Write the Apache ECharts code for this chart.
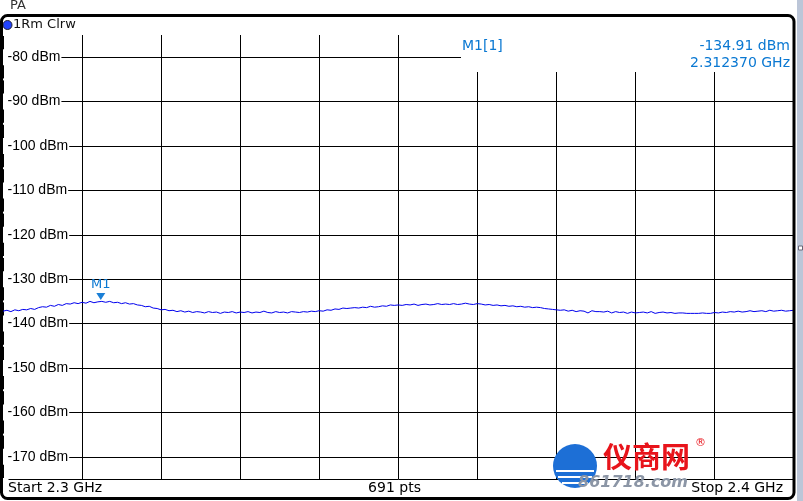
<!DOCTYPE html>
<html>
<head>
<meta charset="utf-8">
<script src="https://cdn.jsdelivr.net/npm/echarts@6/dist/echarts.min.js"></script>
<style>
html,body{margin:0;padding:0;background:#fff;}
#chart{width:803px;height:501px;}
</style>
</head>
<body>
<div id="chart"></div>
<script>
// ---- data ----
const freqStartGHz = 2.3;
const freqStopGHz = 2.4;
const freqStepGHz = 0.0005;
const sweepPointsText = '691 pts';
const traceDbm = [
  -137.2, -137.0, -137.3, -136.9, -137.1, -136.8, -136.9, -136.6, -136.8, -136.4, -136.2,
  -136.3, -135.9, -136.1, -135.7, -135.9, -135.5, -135.6,
  -135.3, -135.5, -135.2, -135.4, -135.0, -135.3, -135.1,
  -135.0, -135.2, -135.0, -135.3, -135.2, -135.5, -135.3, -135.6,
  -135.5, -135.8, -135.9, -136.2, -136.1, -136.5, -136.6, -136.9,
  -136.8, -137.1, -137.0, -137.3, -137.1, -137.4, -137.2, -137.5, -137.3, -137.4,
  -137.6, -137.3, -137.5, -137.4, -137.7, -137.4, -137.5, -137.3, -137.6, -137.4, -137.5, -137.3,
  -137.6, -137.4, -137.5, -137.2, -137.5, -137.6, -137.3, -137.5, -137.4, -137.6, -137.3, -137.4, -137.5,
  -137.3, -137.4, -137.2, -137.3, -137.1, -137.2, -136.9, -137.0,
  -136.7, -136.8, -136.5, -136.6, -136.5,
  -136.4, -136.5, -136.3, -136.4, -136.1, -136.3, -136.2,
  -136.0, -136.1, -135.8, -135.9, -135.8,
  -135.9, -135.7, -135.8, -135.6, -135.9, -135.7, -135.6, -135.8, -135.7, -135.5, -135.7, -135.6, -135.7,
  -135.5, -135.7, -135.6, -135.4, -135.6, -135.7, -135.5, -135.6,
  -135.8, -135.7, -135.9, -135.8, -136.0,
  -135.9, -136.1, -136.0, -136.2, -136.1, -136.3, -136.2, -136.4, -136.3, -136.4,
  -136.6, -136.7, -136.8, -136.9,
  -137.0, -136.9, -137.2, -137.0, -137.3, -137.1, -137.2, -137.6, -137.1, -137.3, -137.3,
  -137.4, -137.2, -137.6, -137.3, -137.5, -137.4, -137.7, -137.4, -137.6, -137.5,
  -137.4, -137.6, -137.3, -137.7, -137.5, -137.4, -137.6, -137.5, -137.7, -137.6,
  -137.6, -137.7, -137.7, -137.7, -137.7, -137.6, -137.7, -137.7, -137.5, -137.6,
  -137.4, -137.5, -137.3, -137.4, -137.2, -137.4, -137.3, -137.1, -137.3, -137.2,
  -137.1, -137.3, -137.0, -137.2, -137.1, -137.0, -137.2, -137.1, -137.0
];
const markerFreqGHz = 2.31237;
const markerDbm = -134.91;
const yMinDbm = -175;
const yMaxDbm = -75;
const yTickStep = 5;

// ---- chart ----
const chart = echarts.init(document.getElementById('chart'), null, {renderer: 'canvas'});
const seriesData = traceDbm.map((v, i) => [freqStartGHz + i * freqStepGHz, v]);
const blueText = '#0a78d2';
const uiFont = 'DejaVu Sans';

chart.setOption({
  animation: false,
  backgroundColor: '#ffffff',
  grid: {left: 2.5, right: 9.5, top: 35, bottom: 22, containLabel: false},
  xAxis: {
    type: 'value', min: freqStartGHz, max: freqStopGHz, interval: 0.01,
    axisLabel: {show: false}, axisTick: {show: false},
    axisLine: {show: true, lineStyle: {color: '#000', width: 1}},
    splitLine: {show: true, lineStyle: {color: '#000', width: 1}}
  },
  yAxis: {
    type: 'value', min: yMinDbm, max: yMaxDbm, interval: yTickStep,
    axisLine: {show: false}, axisTick: {show: false},
    splitLine: {show: true, lineStyle: {color: ['rgba(0,0,0,0)', '#000'], width: 1}},
    axisLabel: {
      inside: true, margin: 0,
      formatter: v => (Math.round(v) % 10 === 0 && v > yMinDbm && v < yMaxDbm) ? (Math.round(v) + ' dBm') : '',
      color: '#000', fontFamily: 'Liberation Sans', fontSize: 14,
      backgroundColor: '#fff', padding: [1, 1, 1, 4.5]
    }
  },
  series: [{
    type: 'line', data: seriesData, showSymbol: false, symbol: 'none',
    lineStyle: {color: '#0000ee', width: 1}, z: 3,
    markPoint: {
      symbol: 'triangle', symbolSize: [9, 7], symbolRotate: 180, symbolOffset: [0, -4.5],
      itemStyle: {color: '#1a7fd6'},
      label: {show: true, position: 'top', distance: 2, formatter: 'M1', color: blueText, fontFamily: uiFont, fontSize: 13},
      data: [{coord: [markerFreqGHz, markerDbm]}]
    }
  }],
  graphic: [
    // marker readout box
    {type: 'rect', z: 50, shape: {x: 461, y: 33, width: 333, height: 39}, style: {fill: '#fff'}},
    {type: 'text', z: 51, x: 462, y: 46, style: {text: 'M1[1]', fill: blueText, font: '14px "DejaVu Sans"', verticalAlign: 'middle'}},
    {type: 'text', z: 51, x: 790, y: 46, style: {text: markerDbm.toFixed(2) + ' dBm', fill: blueText, font: '14px "DejaVu Sans"', align: 'right', verticalAlign: 'middle'}},
    {type: 'text', z: 51, x: 790, y: 63, style: {text: markerFreqGHz.toFixed(6) + ' GHz', fill: blueText, font: '14px "DejaVu Sans"', align: 'right', verticalAlign: 'middle'}},
    // header
    {type: 'text', z: 51, x: 10, y: 6, style: {text: 'PA', fill: '#333', font: '13px "DejaVu Sans"', verticalAlign: 'middle'}},
    {type: 'circle', z: 51, shape: {cx: 7.5, cy: 25, r: 4.5}, style: {fill: '#2244ff', stroke: '#223', lineWidth: 1}},
    {type: 'text', z: 51, x: 13, y: 25, style: {text: '1Rm Clrw', fill: '#111', font: '13px "DejaVu Sans"', verticalAlign: 'middle'}},
    // footer
    {type: 'text', z: 51, x: 8, y: 488, style: {text: 'Start ' + freqStartGHz + ' GHz', fill: '#000', font: '14px "DejaVu Sans"', verticalAlign: 'middle'}},
    {type: 'text', z: 51, x: 394.5, y: 488, style: {text: sweepPointsText, fill: '#000', font: '14px "DejaVu Sans"', align: 'center', verticalAlign: 'middle'}},
    {type: 'text', z: 51, x: 783, y: 488, style: {text: 'Stop ' + freqStopGHz + ' GHz', fill: '#000', font: '14px "DejaVu Sans"', align: 'right', verticalAlign: 'middle'}},
    // watermark
    {type: 'circle', z: 52, shape: {cx: 575, cy: 466, r: 22}, style: {fill: '#1d6fd6'}},
    {type: 'rect', z: 53, shape: {x: 556, y: 470, width: 38, height: 2}, style: {fill: '#fff'}},
    {type: 'rect', z: 53, shape: {x: 558, y: 476, width: 34, height: 2}, style: {fill: '#fff'}},
    {type: 'rect', z: 53, shape: {x: 562, y: 482, width: 26, height: 2}, style: {fill: '#fff'}},
    {type: 'text', z: 53, x: 603, y: 457, style: {text: '仪商网', fill: '#e8141b', font: 'bold 29px "Noto Sans CJK SC"', verticalAlign: 'middle'}},
    {type: 'text', z: 53, x: 695, y: 443, style: {text: '®', fill: '#e8141b', font: '11px "DejaVu Sans"', verticalAlign: 'middle'}},
    {type: 'text', z: 53, x: 578, y: 483, style: {text: '861718.com', fill: '#8c96a6', font: 'italic bold 16px "DejaVu Sans"', verticalAlign: 'middle'}},
    // frame and side strip
    {type: 'rect', z: 60, shape: {x: 1.5, y: 15.5, width: 792.5, height: 483, r: 6}, style: {fill: 'none', stroke: '#000', lineWidth: 3}},
    {type: 'rect', z: 60, shape: {x: 797, y: 0, width: 6, height: 501}, style: {fill: '#bcc6d8'}},
    {type: 'rect', z: 61, shape: {x: 798.5, y: 246, width: 4, height: 4}, style: {fill: '#fff', stroke: '#667', lineWidth: 1}}
  ]
});
</script>
</body>
</html>
